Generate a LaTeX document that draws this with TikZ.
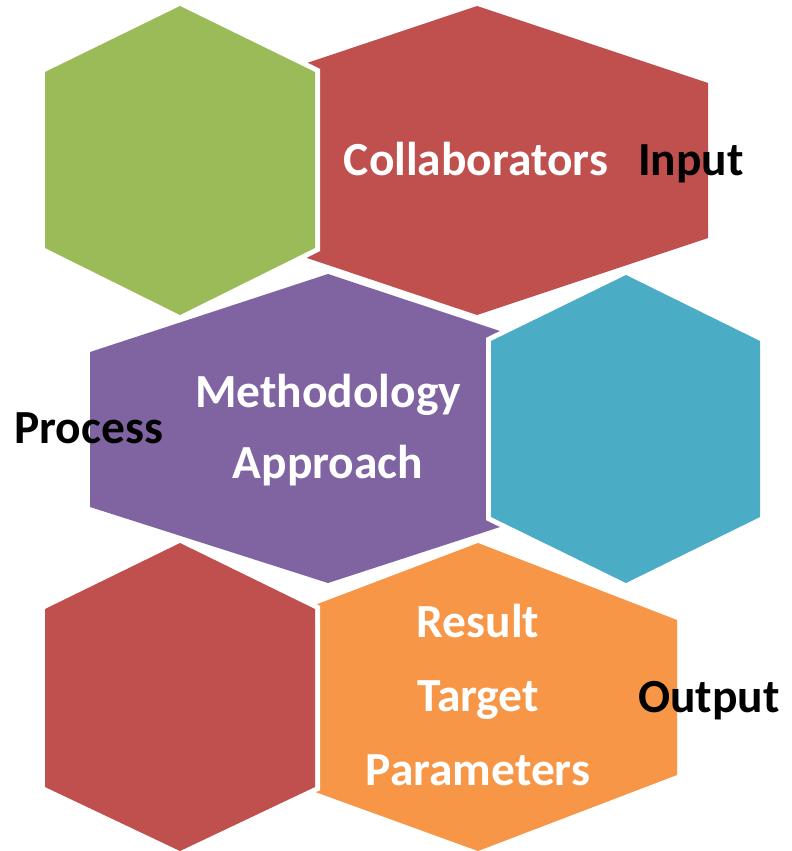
\documentclass[tikz,border=0pt]{standalone}
\usepackage{fontspec}
\setmainfont{Carlito}
\definecolor{hexgreen}{HTML}{9BBB59}
\definecolor{hexred}{HTML}{C0504D}
\definecolor{hexpurple}{HTML}{8064A2}
\definecolor{hexblue}{HTML}{4BACC6}
\definecolor{hexorange}{HTML}{F79646}
\begin{document}
\begin{tikzpicture}[x=1pt,y=-1pt,
  hexrim/.style={draw=white,line width=10pt,line join=miter},
  wlab/.style={text=white,font=\bfseries\fontsize{47.5}{55}\selectfont,anchor=base,inner sep=0pt},
  blab/.style={text=black,font=\bfseries\fontsize{47.5}{55}\selectfont,anchor=base,inner sep=0pt}]
\useasboundingbox (0,0) rectangle (792,851);
% top red
\path[hexrim] (307,63) -- (477,6) -- (708,83) -- (708,238) -- (477,315) -- (307,258) -- cycle;
\fill[hexred] (307,63) -- (477,6) -- (708,83) -- (708,238) -- (477,315) -- (307,258) -- cycle;
% green
\path[hexrim] (180,6) -- (315,72) -- (315,248) -- (180,315) -- (45,248) -- (45,72) -- cycle;
\fill[hexgreen] (180,6) -- (315,72) -- (315,248) -- (180,315) -- (45,248) -- (45,72) -- cycle;
% purple
\path[hexrim] (328,274) -- (500,331) -- (500,527) -- (328,583) -- (90,507) -- (90,352) -- cycle;
\fill[hexpurple] (328,274) -- (500,331) -- (500,527) -- (328,583) -- (90,507) -- (90,352) -- cycle;
% blue
\path[hexrim] (626,275) -- (760,341) -- (760,517) -- (626,583) -- (491,517) -- (491,341) -- cycle;
\fill[hexblue] (626,275) -- (760,341) -- (760,517) -- (626,583) -- (491,517) -- (491,341) -- cycle;
% orange
\path[hexrim] (478,543) -- (677,620) -- (677,775) -- (478,851) -- (307,789) -- (307,608) -- cycle;
\fill[hexorange] (478,543) -- (677,620) -- (677,775) -- (478,851) -- (307,789) -- (307,608) -- cycle;
% bottom red
\path[hexrim] (180,543) -- (315,609) -- (315,787) -- (180,851) -- (45,787) -- (45,609) -- cycle;
\fill[hexred] (180,543) -- (315,609) -- (315,787) -- (180,851) -- (45,787) -- (45,609) -- cycle;
% labels
\node[wlab] (collab) at (476,175) {Collaborators};
\node[blab] (input) at (691,175) {Input};
\node[wlab] (method) at (328,407) {Methodology};
\node[wlab] (approach) at (328,478) {Approach};
\node[blab,anchor=base west] (process) at (14,443) {Process};
\node[wlab] (result) at (478,637) {Result};
\node[wlab] (target) at (478,711) {Target};
\node[wlab] (params) at (478,785) {Parameters};
\node[blab] (output) at (709,712) {Output};
\end{tikzpicture}
\end{document}
